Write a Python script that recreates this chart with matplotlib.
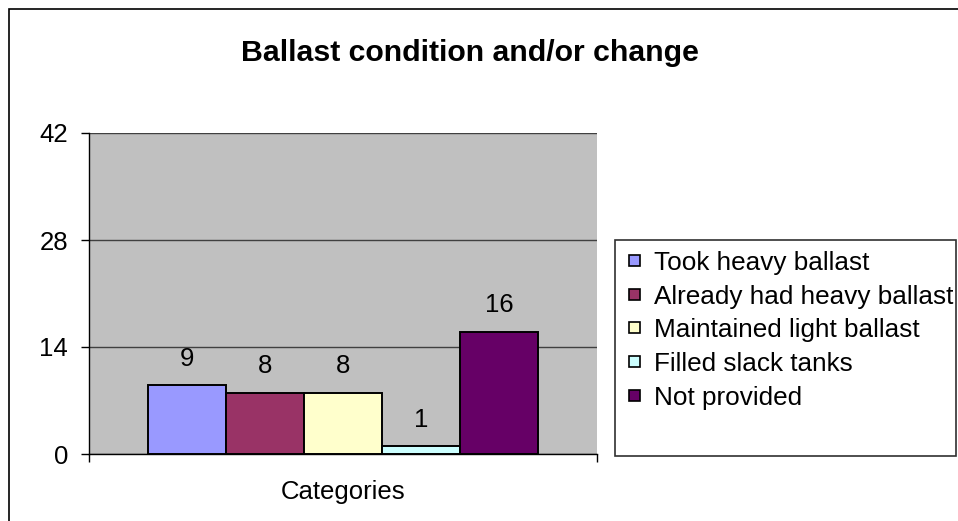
import matplotlib
matplotlib.use("Agg")
import matplotlib.pyplot as plt
from matplotlib.patches import Rectangle

plt.rcParams['font.family'] = ['Liberation Sans', 'DejaVu Sans']

title = "Ballast condition and/or change"
category_label = "Categories"
series_names = ["Took heavy ballast", "Already had heavy ballast",
                "Maintained light ballast", "Filled slack tanks", "Not provided"]
series_values = [9, 8, 8, 1, 16]
series_colors = ["#9999FF", "#993366", "#FFFFCC", "#CCFFFF", "#660066"]
y_ticks = [0, 14, 28, 42]

W, H = 958, 521
fig = plt.figure(figsize=(W / 100, H / 100), dpi=100)

def fx(px):
    return px / W

def fy(py):
    return 1 - py / H

# figure border
fig.patches.append(Rectangle((fx(9), fy(H + 10)), fx(W + 10), fy(9) - fy(H + 10),
                             transform=fig.transFigure, fill=False,
                             edgecolor='black', linewidth=1.2, zorder=0))

ax_l, ax_r, ax_t, ax_b = 89, 597, 133, 454
ax = fig.add_axes([fx(ax_l), fy(ax_b), fx(ax_r - ax_l), fy(ax_t) - fy(ax_b)])
ax.set_facecolor('#C0C0C0')

n = len(series_values)
group_width = 0.768
bw = group_width / n
start = 0.5 - group_width / 2
bars = []
for i, (name, v, c) in enumerate(zip(series_names, series_values, series_colors)):
    b = ax.bar(start + bw * (i + 0.5), v, width=bw, color=c, edgecolor='black',
               linewidth=1.4, label=name, zorder=3)
    bars.append(b)
    ax.annotate(str(v), (start + bw * (i + 0.5), v), xytext=(0, 14),
                textcoords='offset points', ha='center', va='baseline',
                fontsize=18.5, color='black', zorder=4)

ax.set_xlim(0, 1)
ax.set_ylim(0, 42)
ax.set_yticks(y_ticks)
ax.yaxis.grid(True, color='#404040', linewidth=1.0, zorder=1)
ax.set_axisbelow(True)
ax.tick_params(axis='y', direction='out', length=5.8, width=1, pad=9.4,
               labelsize=18.5, color='black')
ax.set_xticks([0, 1])
ax.set_xticklabels([])
ax.tick_params(axis='x', direction='out', length=5.5, width=1, color='black')
for s in ['top', 'right']:
    ax.spines[s].set_visible(False)
for s in ['left', 'bottom']:
    ax.spines[s].set_color('black')
    ax.spines[s].set_linewidth(1.0)

ax.set_xlabel(category_label, fontsize=18.5, va='center')
ax.xaxis.set_label_coords(0.5, -(492 - ax_b) / (ax_b - ax_t))

fig.text(fx(470), fy(61), title, ha='center', va='baseline',
         fontsize=21.8, fontweight='bold')

# legend frame
fig.patches.append(Rectangle((fx(615), fy(456)), fx(956 - 615), fy(240) - fy(456),
                             transform=fig.transFigure, fill=True, facecolor='white',
                             edgecolor='#303030', linewidth=1.2, zorder=1))
leg = fig.legend(handles=[b[0] for b in bars], labels=series_names,
                 loc='upper left', bbox_to_anchor=(fx(629), fy(251)),
                 frameon=False, fontsize=18.8, handlelength=0.42, handleheight=0.27,
                 handletextpad=0.55, labelspacing=0.37, borderpad=0,
                 borderaxespad=0)
for h in leg.legend_handles:
    h.set_linewidth(1.2)

fig.savefig('out.png', dpi=100)
